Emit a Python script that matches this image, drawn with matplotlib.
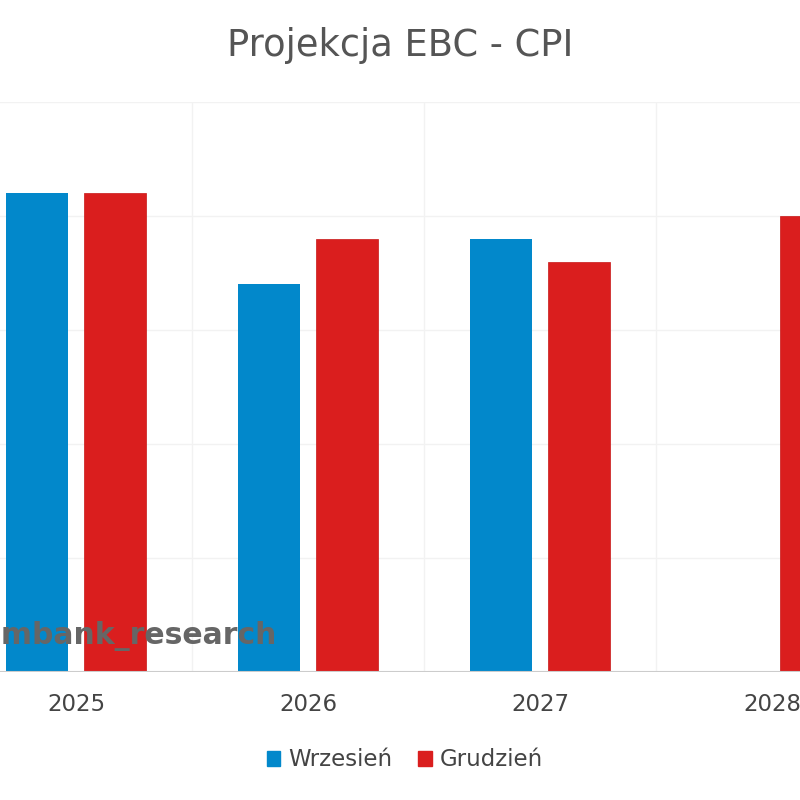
import numpy as np
import matplotlib

matplotlib.use("Agg")
import matplotlib.pyplot as plt
from matplotlib.patches import Patch

YEARS = ["2025", "2026", "2027", "2028"]
WRZESIEN = [2.1, 1.7, 1.9, np.nan]
GRUDZIEN = [2.1, 1.9, 1.8, 2.0]

BLUE = "#0288cb"
RED = "#da1e1e"
TEXT = "#444444"

plt.rcParams["font.family"] = "DejaVu Sans"

fig = plt.figure(figsize=(8, 8), dpi=100)
ax = fig.add_axes([0.0, 0.16, 1.0, 0.7125])

x = np.arange(len(YEARS))
off = 0.168
w = 0.268
ax.bar(x - off, WRZESIEN, width=w, color=BLUE, linewidth=0, zorder=3)
ax.bar(x + off, GRUDZIEN, width=w, color=RED, edgecolor="#c81616", linewidth=0.5, zorder=3)

ax.set_xlim(-76 / 232, 724 / 232)
ax.set_ylim(0, 2.5)

for yv in [0.5, 1.0, 1.5, 2.0, 2.5]:
    ax.axhline(yv, color="#f2f2f2", lw=1, zorder=1)
for xv in [0.5, 1.5, 2.5]:
    ax.axvline(xv, color="#f2f2f2", lw=1, zorder=1)
ax.axhline(0, color="#cccccc", lw=1.5, zorder=4)

for s in ax.spines.values():
    s.set_visible(False)
ax.set_yticks([])
ax.set_xticks(x)
ax.set_xticklabels(YEARS, fontsize=16.5, color=TEXT)
ax.tick_params(axis="x", length=0, pad=15)

fig.text(0.5, 0.943, "Projekcja EBC - CPI", ha="center", va="center",
         fontsize=26.5, color="#555555")

# watermark runs off the left edge, as in the original
fig.text(276 / 800, 0.205, "@mbank_research", ha="right", va="center",
         fontsize=21.5, fontweight="bold", color="#666666", zorder=6)

handles = [Patch(facecolor=BLUE, edgecolor=BLUE, label="Wrzesień"),
           Patch(facecolor=RED, edgecolor=RED, label="Grudzień")]
fig.legend(handles=handles, loc="center", bbox_to_anchor=(0.506, 0.05), ncol=2,
           frameon=False, fontsize=16.5, handlelength=0.6, handleheight=0.6,
           handletextpad=0.35, columnspacing=1.1, labelcolor=TEXT)

fig.savefig("out.png", dpi=100, facecolor="white")
